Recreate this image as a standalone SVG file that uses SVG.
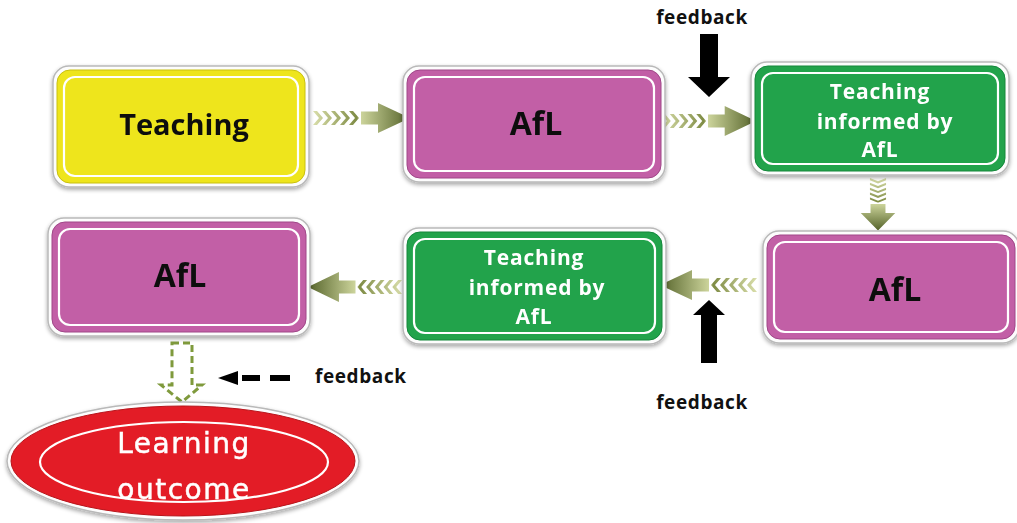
<svg xmlns="http://www.w3.org/2000/svg" width="1017" height="523" viewBox="0 0 1017 523">
<style>
.rim{fill:#fdfdfd;stroke:#b9b9b9;stroke-width:1.5}
.line{fill:none;stroke:#ffffff;stroke-width:2.2}
.yel{fill:#eee51d;stroke:#c9c010;stroke-width:1}
.pink{fill:#c25fa6;stroke:#a04688;stroke-width:1}
.grn{fill:#21a34b;stroke:#14873a;stroke-width:1}
.lbl{font-family:"Open Sans","Liberation Sans",sans-serif;font-weight:bold;text-anchor:middle}
.gl{font-size:21px;letter-spacing:0.8px}
.dark{fill:#111111}
.wt{fill:#ffffff}
.fb{font-family:"Open Sans","Liberation Sans",sans-serif;font-weight:bold;font-size:19px;fill:#111111;letter-spacing:0.6px}
.lo{font-family:"DejaVu Sans",sans-serif;font-size:28px;letter-spacing:1.5px;fill:#ffffff;stroke:#ffffff;stroke-width:0.5;text-anchor:middle}
</style>
<defs>
<filter id="sh" x="-10%" y="-10%" width="120%" height="130%">
<feGaussianBlur in="SourceAlpha" stdDeviation="2"/>
<feOffset dy="2"/>
<feComponentTransfer><feFuncA type="linear" slope="0.35"/></feComponentTransfer>
<feMerge><feMergeNode/><feMergeNode in="SourceGraphic"/></feMerge>
</filter>
<linearGradient id="ag" gradientUnits="userSpaceOnUse" x1="0" y1="0" x2="97" y2="0">
<stop offset="0" stop-color="#d9deaa"/>
<stop offset="0.45" stop-color="#7f8c45"/>
<stop offset="0.5" stop-color="#cbd39a"/>
<stop offset="1" stop-color="#55632a"/>
</linearGradient>
<g id="arr">
<polygon points="0,-7 4,-7 10,0 4,7 0,7 6,0"/>
<polygon points="9,-7 13,-7 19,0 13,7 9,7 15,0"/>
<polygon points="18,-7 22,-7 28,0 22,7 18,7 24,0"/>
<polygon points="27,-7 31,-7 37,0 31,7 27,7 33,0"/>
<polygon points="36,-7 40,-7 46,0 40,7 36,7 42,0"/>
<polygon points="48,-6.5 65,-6.5 65,-15 97,0 65,15 65,6.5 48,6.5"/>
</g>
</defs>

<g id="connectors">
<use href="#arr" fill="url(#ag)" transform="translate(313,118)"/>
<use href="#arr" fill="url(#ag)" transform="translate(661,121) scale(0.98,1)"/>
<use href="#arr" fill="url(#ag)" transform="translate(878,178) rotate(90) scale(0.54,1.15)"/>
<use href="#arr" fill="url(#ag)" transform="translate(757,285) rotate(180)"/>
<use href="#arr" fill="url(#ag)" transform="translate(402,287) rotate(180) scale(0.97,1)"/>
<polygon points="700,34 718,34 718,77 730,77 709,97 688,77 700,77" fill="#000"/>
<polygon points="709,300 725,315 717,315 717,363 701,363 701,315 693,315" fill="#000"/>
<polygon points="218,378 238,371 238,385" fill="#000"/>
<rect x="242" y="375" width="18" height="6" fill="#000"/>
<rect x="270" y="375" width="20" height="6" fill="#000"/>
<path d="M172,343 L192,343 L192,385 L202,385 L182,402 L161,385 L172,385 Z" fill="none" stroke="#7f9a3c" stroke-width="3" stroke-dasharray="7,4"/>
<text class="fb" x="702" y="24" text-anchor="middle">feedback</text>
<text class="fb" x="702" y="409" text-anchor="middle">feedback</text>
<text class="fb" x="315" y="383">feedback</text>
</g>

<g id="n1" filter="url(#sh)">
<rect class="rim" x="53" y="66" width="256" height="121" rx="16"/>
<rect class="yel" x="57" y="70" width="248" height="113" rx="13"/>
<rect class="line" x="64" y="77" width="234" height="99" rx="11"/>
<text class="lbl dark" x="184" y="135" font-size="29">Teaching</text>
</g>
<g id="n2" filter="url(#sh)">
<rect class="rim" x="403" y="66" width="262" height="116" rx="16"/>
<rect class="pink" x="407" y="70" width="254" height="108" rx="13"/>
<rect class="line" x="414" y="77" width="240" height="94" rx="11"/>
<text class="lbl dark" x="536" y="135" font-size="32">AfL</text>
</g>
<g id="n3" filter="url(#sh)">
<rect class="rim" x="751" y="62" width="258" height="113" rx="16"/>
<rect class="grn" x="755" y="66" width="250" height="105" rx="13"/>
<rect class="line" x="762" y="73" width="236" height="91" rx="11"/>
<text class="lbl wt gl" x="880" y="99">Teaching</text>
<text class="lbl wt gl" x="885" y="129">informed by</text>
<text class="lbl wt gl" x="880" y="157">AfL</text>
</g>
<g id="n4" filter="url(#sh)">
<rect class="rim" x="763" y="231" width="256" height="112" rx="16"/>
<rect class="pink" x="767" y="235" width="248" height="104" rx="13"/>
<rect class="line" x="774" y="242" width="234" height="90" rx="11"/>
<text class="lbl dark" x="895" y="301" font-size="32">AfL</text>
</g>
<g id="n5" filter="url(#sh)">
<rect class="rim" x="403" y="228" width="263" height="116" rx="16"/>
<rect class="grn" x="407" y="232" width="255" height="108" rx="13"/>
<rect class="line" x="414" y="239" width="241" height="94" rx="11"/>
<text class="lbl wt gl" x="534" y="265">Teaching</text>
<text class="lbl wt gl" x="537" y="295">informed by</text>
<text class="lbl wt gl" x="534" y="324">AfL</text>
</g>
<g id="n6" filter="url(#sh)">
<rect class="rim" x="48" y="218" width="262" height="118" rx="16"/>
<rect class="pink" x="52" y="222" width="254" height="110" rx="13"/>
<rect class="line" x="59" y="229" width="240" height="96" rx="11"/>
<text class="lbl dark" x="180" y="287" font-size="32">AfL</text>
</g>
<g id="n7" filter="url(#sh)">
<ellipse cx="183" cy="461" rx="176" ry="59" fill="#fdfdfd" stroke="#b9b9b9" stroke-width="1.5"/>
<ellipse cx="183" cy="461" rx="172" ry="55" fill="#e31d25" stroke="#b8141b" stroke-width="1"/>
<ellipse cx="184" cy="462" rx="144" ry="40" fill="none" stroke="#ffffff" stroke-width="2.2"/>
<text class="lo" x="184" y="453">Learning</text>
<text class="lo" x="184" y="499">outcome</text>
</g>
</svg>
